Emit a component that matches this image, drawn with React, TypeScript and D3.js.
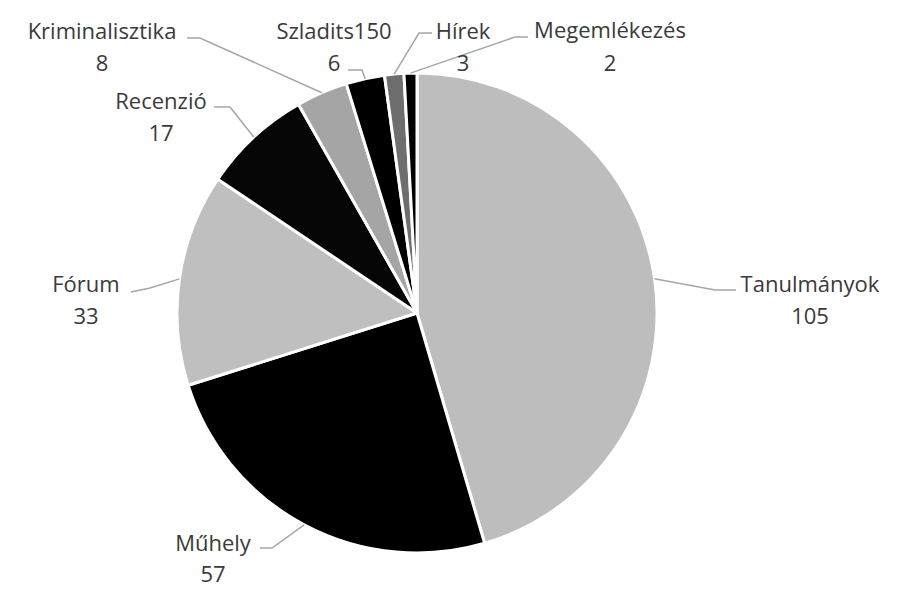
import React from "react";
import * as d3 from "d3";

// ---- data ----
const categories = [
  "Tanulmányok",
  "Műhely",
  "Fórum",
  "Recenzió",
  "Kriminalisztika",
  "Szladits150",
  "Hírek",
  "Megemlékezés",
];
const values = [105, 57, 33, 17, 8, 6, 3, 2];

// ---- style / layout ----
const sliceColors = ["#bdbdbd", "#000000", "#bfbfbf", "#050505", "#a5a5a5", "#000000", "#6e6e6e", "#000000"];
const W = 913;
const H = 603;
const CX = 417;
const CY = 313;
const R = 240;
// label block: [centerX, nameY, valueY]
const labelText: [number, number, number][] = [
  [810, 283, 315],
  [213, 542, 573],
  [86, 283, 315],
  [161, 100, 132],
  [102, 30, 62],
  [334, 30, 62],
  [463, 30, 62],
  [610, 29, 62],
];
// leader: [elbowX, elbowY, attachX, attachY]
const leaders: [number, number, number, number][] = [
  [715, 290, 736, 290],
  [272, 548, 260, 548],
  [150, 288, 131, 292],
  [230, 107, 214, 107],
  [200, 38, 187, 38],
  [362, 70, 348, 70],
  [419, 33, 432, 33],
  [515, 37, 528, 37],
];

export default function App() {
  const pie = d3
    .pie<number>()
    .sort(null)
    .value((d) => d)
    .startAngle(0)
    .endAngle(2 * Math.PI);
  const arcs = pie(values);
  const arc = d3.arc<d3.PieArcDatum<number>>().innerRadius(0).outerRadius(R);
  const edge = d3.arc<d3.PieArcDatum<number>>().innerRadius(R).outerRadius(R);
  const line = d3.line();

  return (
    <svg
      width={W}
      height={H}
      style={{ position: "absolute", left: 0, top: 0, background: "#fff" }}
      fontFamily="'Open Sans', 'Noto Sans', sans-serif"
    >
      <g transform={`translate(${CX},${CY})`}>
        {arcs.map((a, i) => (
          <path key={i} d={arc(a) || ""} fill={sliceColors[i]} stroke="#ffffff" strokeWidth={3} strokeLinejoin="round" />
        ))}
      </g>
      {arcs.map((a, i) => {
        const [ex, ey] = edge.centroid(a);
        const [bx, by, tx, ty] = leaders[i];
        const d = line([
          [CX + ex, CY + ey],
          [bx, by],
          [tx, ty],
        ]);
        return <path key={i} d={d || ""} fill="none" stroke="#a6a6a6" strokeWidth={1.5} />;
      })}
      {categories.map((c, i) => {
        const [x, y1, y2] = labelText[i];
        return (
          <g key={c} fill="#3a3a3a" fontSize={22} textAnchor="middle" dominantBaseline="central">
            <text x={x} y={y1}>{c}</text>
            <text x={x} y={y2}>{values[i]}</text>
          </g>
        );
      })}
    </svg>
  );
}
